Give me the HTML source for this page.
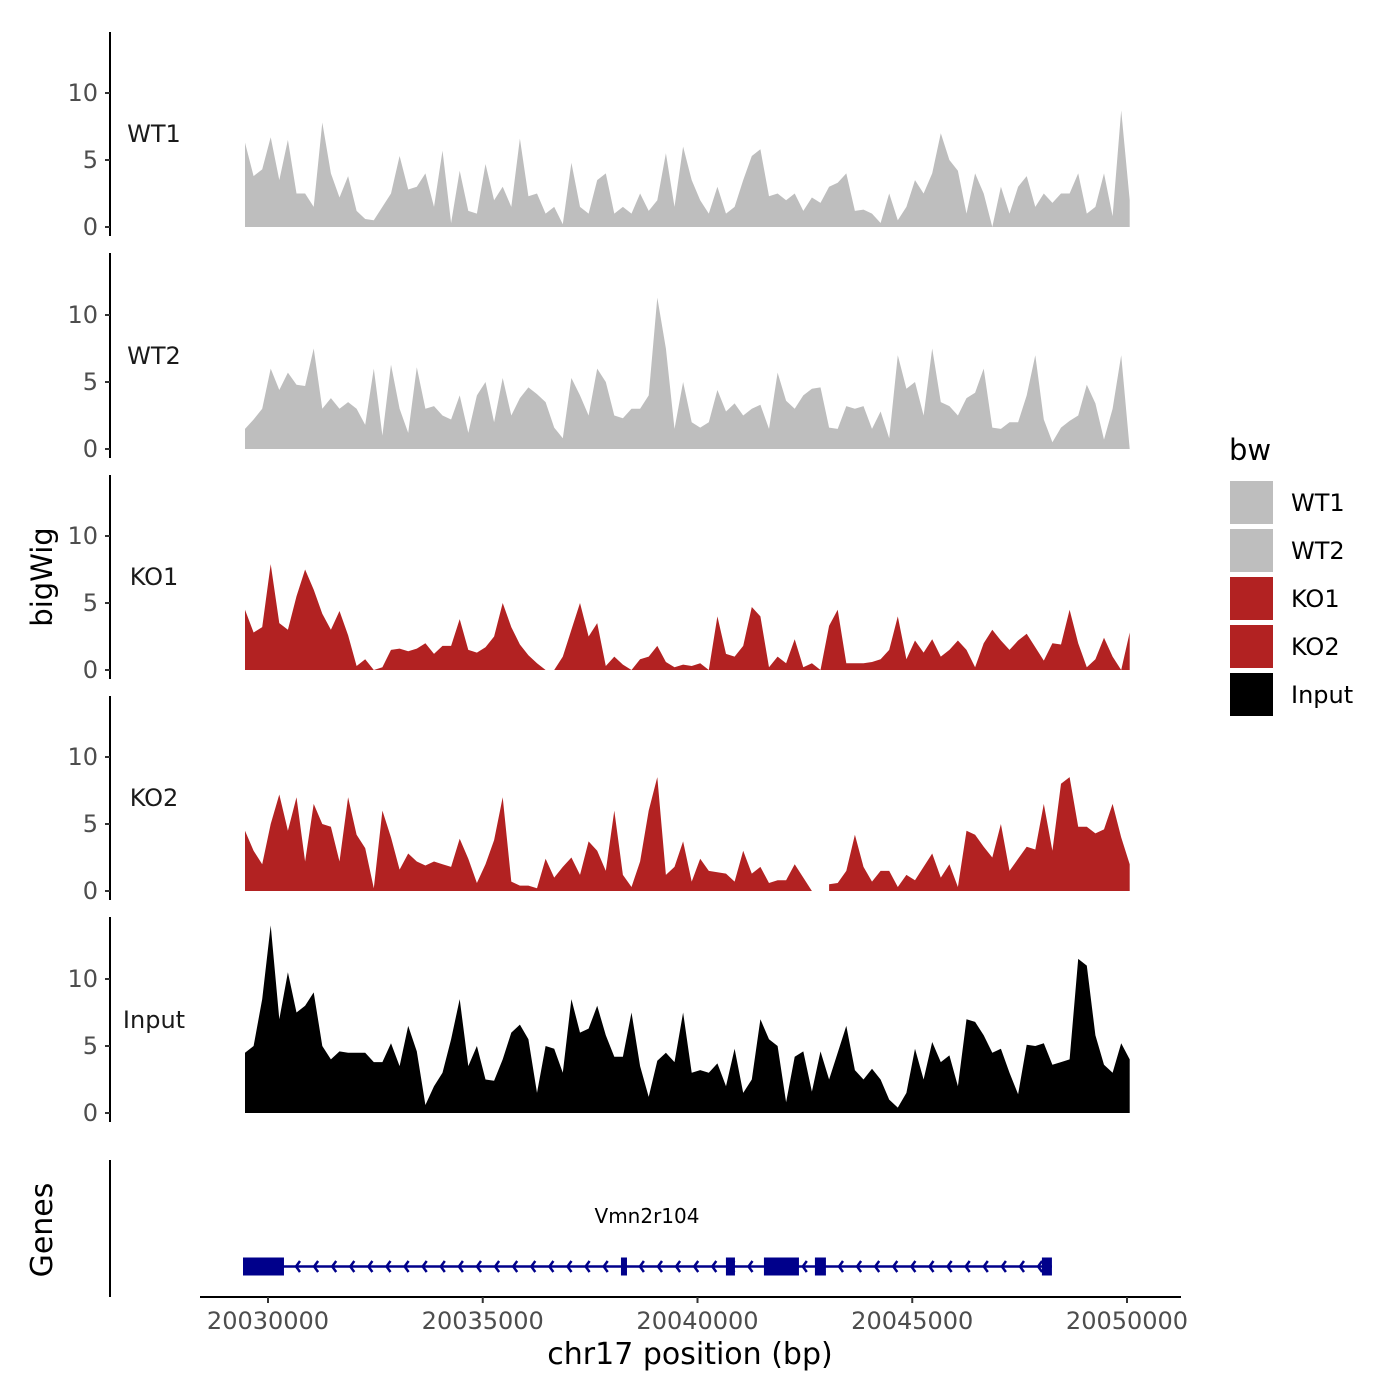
<!DOCTYPE html>
<html><head><meta charset="utf-8">
<style>
html,body{margin:0;padding:0;background:#fff;}
svg{display:block;font-family:"DejaVu Sans","Liberation Sans",sans-serif;}
</style></head>
<body>
<svg id="chart" width="1400" height="1400" viewBox="0 0 1400 1400" xmlns="http://www.w3.org/2000/svg">
<rect width="1400" height="1400" fill="#fff"/>
<g id="panels"></g>
<g id="genes"></g>
<g id="xaxis"></g>
<text x="52" y="577" font-size="29" text-anchor="middle" transform="rotate(-90 52 577)" fill="#000">bigWig</text>
<text x="52" y="1230" font-size="30" text-anchor="middle" transform="rotate(-90 52 1230)" fill="#000">Genes</text>
<text x="690" y="1364" font-size="30" text-anchor="middle" fill="#000">chr17 position (bp)</text>
<g id="legend"></g>
</svg>
<script>
const trackNames = ["WT1","WT2","KO1","KO2","Input"];
const trackColors = ["#bebebe","#bebebe","#b22222","#b22222","#000000"];
const binStart = 20029464;
const binSize = 200;
const yTicks = [0,5,10];
const xTicks = [20030000,20035000,20040000,20045000,20050000];
const xTickLabels = ["20030000","20035000","20040000","20045000","20050000"];
const wt1 = [6.3,3.8,4.3,6.7,3.5,6.5,2.5,2.5,1.5,7.8,4,2.2,3.8,1.2,0.6,0.5,1.5,2.5,5.3,2.8,3,4,1.5,5.7,0.3,4.2,1.2,1,4.7,2,3,1.5,6.6,2.3,2.5,1,1.5,0.2,4.8,1.5,1,3.5,4,1,1.5,1,2.5,1.2,2,5.5,1.5,6,3.5,2,1,3,1,1.5,3.5,5.3,5.8,2.3,2.5,2,2.5,1.2,2.2,1.8,3,3.3,4,1.2,1.3,1,0.3,2.5,0.5,1.5,3.5,2.5,4,7,5,4.2,1,4,2.5,0,3,1,3,3.8,1.5,2.5,1.8,2.5,2.5,4,1,1.5,4,0.8,8.7,2];
const wt2 = [1.5,2.2,3,6,4.4,5.7,4.8,4.7,7.5,3,3.8,3,3.5,3,1.8,6,1,6.3,3,1.2,6.1,3,3.2,2.5,2.2,4,1.2,4,5,2,5.3,2.5,3.8,4.6,4.1,3.5,1.6,0.8,5.3,4,2.5,6,5,2.5,2.3,3,3,4,11.3,7.5,1.5,5,2,1.6,2,4.4,2.8,3.4,2.5,3,3.3,1.5,5.7,3.6,3,4,4.5,4.6,1.6,1.5,3.2,3,3.2,1.5,2.8,0.8,7,4.5,5,2.5,7.5,3.5,3.2,2.5,3.8,4.2,6,1.6,1.5,2,2,4,7,2.2,0.5,1.6,2.1,2.5,4.8,3.4,0.7,3,7,0];
const ko1 = [4.5,2.8,3.2,7.9,3.5,3,5.5,7.5,6,4.2,3,4.4,2.6,0.3,0.8,0,0.2,1.5,1.6,1.4,1.6,2,1.2,1.8,1.8,3.8,1.5,1.3,1.7,2.5,5,3.2,1.9,1.1,0.5,0,0,1,3,5,2.5,3.5,0.3,1,0.4,0,0.8,1,1.8,0.6,0.2,0.4,0.3,0.5,0,4,1.2,1,1.8,4.7,4,0.2,1,0.5,2.3,0.2,0.5,0,3.3,4.5,0.5,0.5,0.5,0.6,0.8,1.5,4,0.8,2.2,1.3,2.3,1,1.5,2.2,1.5,0.2,2,3,2.2,1.5,2.2,2.7,1.7,0.7,2,1.9,4.5,2,0.2,0.8,2.4,1,0,2.8];
const ko2 = [4.5,3,2,5,7.2,4.5,7,2.2,6.5,5,4.8,2.2,7,4.2,3.2,0.2,6,4,1.6,2.8,2.2,1.9,2.2,2,1.8,3.9,2.4,0.6,2,3.8,7,0.7,0.4,0.4,0.2,2.4,1,1.8,2.5,1.2,3.7,3,1.5,6,1.2,0.3,2.2,6,8.5,1.2,1.8,3.7,0.7,2.4,1.5,1.4,1.3,0.7,3,1.3,1.8,0.6,0.8,0.8,2,1,0,null,0.5,0.6,1.5,4.2,1.8,0.7,1.5,1.5,0.3,1.2,0.8,1.8,2.8,1,2,0.3,4.5,4.2,3.3,2.5,5,1.5,2.4,3.3,3.1,6.5,3,8,8.5,4.8,4.8,4.3,4.6,6.5,4,2];
const input = [4.5,5,8.5,14,7,10.5,7.5,8,9,5,4,4.6,4.5,4.5,4.5,3.8,3.8,5.2,3.5,6.5,4.6,0.6,2,3,5.5,8.5,3.5,5,2.5,2.4,4,6,6.6,5.5,1.5,5,4.8,3,8.5,6,6.3,8,5.8,4.2,4.2,7.5,3.5,1.2,3.9,4.5,3.8,7.5,3,3.2,3,3.7,2,4.8,1.5,2.5,7,5.5,5,0.8,4.2,4.6,1.6,4.6,2.5,4.5,6.5,3.2,2.5,3.3,2.5,1,0.4,1.5,4.8,2.5,5.3,3.8,4.3,2,7,6.8,5.8,4.5,4.8,3,1.4,5.1,5,5.2,3.6,3.8,4,11.5,11,5.8,3.6,3,5.2,4];
const exonStarts = [20029418,20038218,20040662,20041547,20042734,20048019];
const exonEnds = [20030372,20038358,20040872,20042362,20042990,20048252];
const geneStart = 20029418;
const geneEnd = 20048252;
const geneName = "Vmn2r104";

const NS = "http://www.w3.org/2000/svg";
const series = [wt1, wt2, ko1, ko2, input];
const panelZero = [227, 449, 670, 891, 1113];
const panelTop = [32, 253, 475, 696, 917];
const pxPerUnit = 13.4;
function xScale(bp){ return 268 + (bp - 20030000) * (859 / 20000); }
function yScale(p, v){ return panelZero[p] - v * pxPerUnit; }
function mk(tag, attrs, parent){ const e = document.createElementNS(NS, tag); for (const k in attrs) e.setAttribute(k, attrs[k]); parent.appendChild(e); return e; }

const panels = document.getElementById('panels');
series.forEach((vals, p) => {
  const g = mk('g', {}, panels);
  
  
  const ax = mk('line', {x1:110, x2:110, y1:panelTop[p], y2:panelZero[p] + 9, stroke:'#000', 'stroke-width':2}, g);
  
  
  yTicks.forEach(t => {
    const y = yScale(p, t);
    const tk = mk('line', {x1:105, x2:110, y1:y, y2:y, stroke:'#333', 'stroke-width':2}, g);
    
    
    const tl = mk('text', {x:98, y:y + 8, 'font-size':24, 'text-anchor':'end', fill:'#4d4d4d'}, g);
    tl.textContent = String(t);
    
    
  });
  const lab = mk('text', {x:154, y:panelZero[p] - 85, 'font-size':24, 'text-anchor':'middle', fill:'#1a1a1a'}, g);
  lab.textContent = trackNames[p];
  
  
  let seg = [];
  const segs = [];
  vals.forEach((v, i) => {
    if (v === null) { if (seg.length) segs.push(seg); seg = []; }
    else seg.push([xScale(binStart + i * binSize), yScale(p, v)]);
  });
  if (seg.length) segs.push(seg);
  segs.forEach(s => {
    let d = 'M' + s[0][0].toFixed(1) + ',' + panelZero[p];
    s.forEach(pt => { d += 'L' + pt[0].toFixed(1) + ',' + pt[1].toFixed(1); });
    d += 'L' + s[s.length - 1][0].toFixed(1) + ',' + panelZero[p] + 'Z';
    const a = mk('path', {d:d, fill:trackColors[p], stroke:'none'}, g);
    
    
  });
});

const gg = document.getElementById('genes');
const gax = mk('line', {x1:110, x2:110, y1:1160, y2:1297, stroke:'#000', 'stroke-width':2}, gg);


const gl = mk('line', {x1:xScale(geneStart), x2:xScale(geneEnd), y1:1266.5, y2:1266.5, stroke:'#00008b', 'stroke-width':2.5}, gg);


for (let x = xScale(geneStart) + 53; x < xScale(geneEnd) - 5; x += 18.1) {
  const ar = mk('polyline', {points:(x+4)+',1261 '+(x)+',1266.5 '+(x+4)+',1272', fill:'none', stroke:'#00008b', 'stroke-width':2.5}, gg);
  
  
}
exonStarts.forEach((s, i) => {
  const x1 = xScale(s), x2 = xScale(exonEnds[i]);
  const r = mk('rect', {x:x1, y:1257.5, width:Math.max(x2 - x1, 4), height:18, fill:'#00008b'}, gg);
  
  
});
const gn = mk('text', {x:647, y:1223, 'font-size':20, 'text-anchor':'middle', fill:'#000'}, gg);
gn.textContent = geneName;



const xg = document.getElementById('xaxis');
const xl = mk('line', {x1:200, x2:1181, y1:1297, y2:1297, stroke:'#000', 'stroke-width':2}, xg);


xTicks.forEach((t, i) => {
  const x = xScale(t);
  const tk = mk('line', {x1:x, x2:x, y1:1297, y2:1303, stroke:'#333', 'stroke-width':2}, xg);
  
  
  const tl = mk('text', {x:x, y:1329, 'font-size':24, 'text-anchor':'middle', fill:'#4d4d4d'}, xg);
  tl.textContent = xTickLabels[i];
  
  
});

const lg = document.getElementById('legend');
const lt = mk('text', {x:1229, y:460, 'font-size':29, fill:'#000'}, lg);
lt.textContent = 'bw';


trackNames.forEach((n, i) => {
  const y = 481 + i * 48;
  const e = mk('g', {}, lg);
  
  
  const k = mk('rect', {x:1230, y:y, width:43, height:43, fill:trackColors[i]}, e);
  
  
  const t = mk('text', {x:1291, y:y + 30, 'font-size':24, fill:'#000'}, e);
  t.textContent = n;
  
  
});
</script>
</body></html>
